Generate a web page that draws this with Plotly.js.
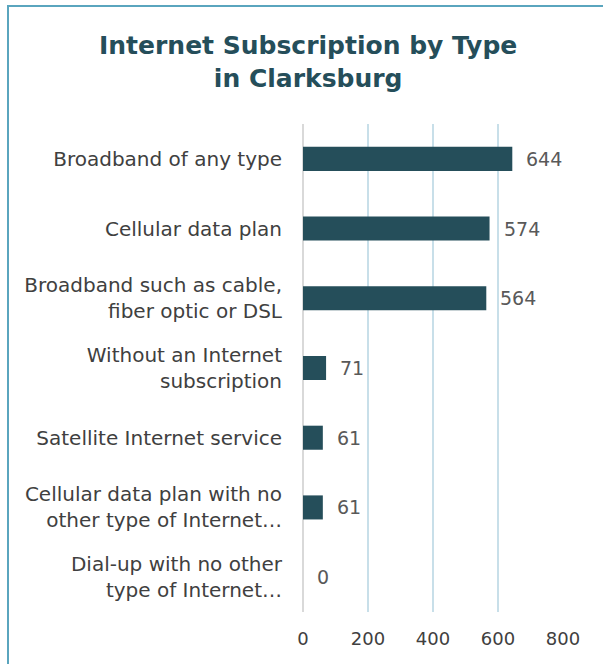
<!DOCTYPE html>
<html>
<head>
<meta charset="utf-8">
<script src="https://cdn.plot.ly/plotly-3.0.1.min.js"></script>
<style>
  html, body { margin:0; padding:0; background:#fff; }
  #frame { position:absolute; left:7px; top:5px; width:700px; height:700px; border-top:2px solid #5AA5BE; border-left:2px solid #5AA5BE; }
  #chart { position:absolute; left:0; top:0; width:603px; height:664px; }
</style>
</head>
<body>
<div id="frame"></div>
<div id="chart"></div>
<script>
const categories = [
  "Broadband of any type",
  "Cellular data plan",
  "Broadband such as cable,<br>fiber optic or DSL",
  "Without an Internet<br>subscription",
  "Satellite Internet service",
  "Cellular data plan with no<br>other type of Internet…",
  "Dial-up with no other<br>type of Internet…"
];
const values = [644, 574, 564, 71, 61, 61, 0];
const tickVals = [0, 200, 400, 600, 800];
const tickText = ["0", "200", "400", "600", "800"];

const trace = {
  type: "bar",
  orientation: "h",
  y: categories,
  x: values,
  marker: { color: "#254E5A" },
  hoverinfo: "none"
};

const annotations = values.map((v, i) => ({
  x: v, y: categories[i], xref: "x", yref: "y",
  text: String(v), showarrow: false, xanchor: "left", xshift: 12,
  font: { family: "DejaVu Sans", size: 19, color: "#595959" }
}));

const layout = {
  width: 603, height: 664,
  margin: { l: 303, r: 40, t: 124, b: 52 },
  paper_bgcolor: "rgba(0,0,0,0)",
  plot_bgcolor: "rgba(0,0,0,0)",
  bargap: 0.655,
  showlegend: false,
  title: {
    text: "<b>Internet Subscription by Type<br>in Clarksburg</b>",
    x: 0.511, xanchor: "center", y: 0.918, yanchor: "top",
    font: { family: "DejaVu Sans", size: 25, color: "#254E5A", lineheight: 1.2 }
  },
  xaxis: {
    range: [0, 800],
    tickvals: tickVals, ticktext: tickText,
    showgrid: true, gridcolor: "#C8DFE9", gridwidth: 2,
    zeroline: true, zerolinecolor: "#D9D9D9", zerolinewidth: 2,
    showline: false, ticks: "",
    ticklabelstandoff: 14,
    tickfont: { family: "DejaVu Sans", size: 18, color: "#404040" },
    fixedrange: true
  },
  yaxis: {
    autorange: "reversed",
    showgrid: false, zeroline: false, showline: false, ticks: "",
    ticklabelstandoff: 20,
    tickfont: { family: "DejaVu Sans", size: 20, color: "#404040" },
    fixedrange: true
  },
  annotations: annotations
};

Plotly.newPlot("chart", [trace], layout, { displayModeBar: false, staticPlot: true });
</script>
</body>
</html>
